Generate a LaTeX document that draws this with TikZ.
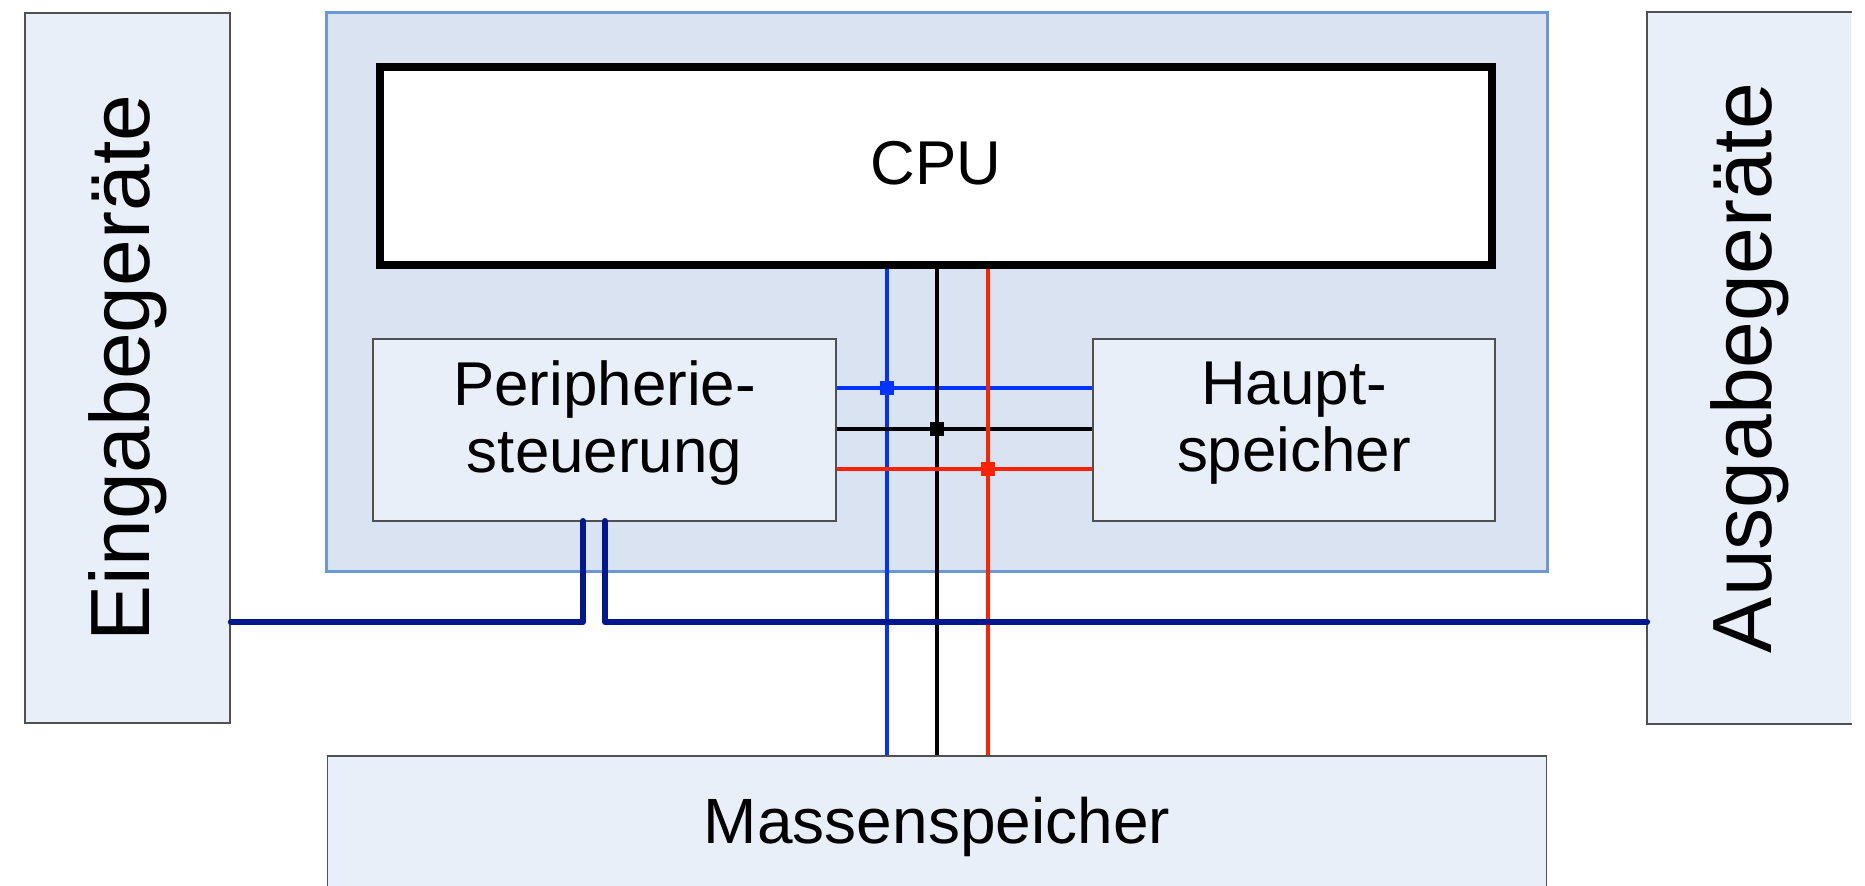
\documentclass[tikz,border=0pt]{standalone}
\usepackage{fontspec}
\setmainfont{Liberation Sans}
\usepackage{graphicx}

\definecolor{boxfill}{RGB}{233,239,248}
\definecolor{boxline}{RGB}{80,80,80}
\definecolor{sysfill}{RGB}{218,227,241}
\definecolor{sysline}{RGB}{108,152,212}
\definecolor{busblue}{RGB}{0,51,255}
\definecolor{busred}{RGB}{255,34,0}
\definecolor{iobus}{RGB}{0,24,143}

\tikzset{
	unitbox/.style={draw=boxline, line width=0.45pt, fill=boxfill, inner sep=0pt, align=center,
		font=\fontsize{17.6}{19.1}\selectfont},
	sidebox/.style={unitbox, minimum width=2.05cm, minimum height=7.1cm,
		font=\fontsize{23.9}{28}\selectfont},
	bus/.style={line width=1.15pt},
	iolink/.style={draw=iobus, line width=1.7pt, line join=round, line cap=round},
}

\begin{document}
\begin{tikzpicture}[x=0.01cm, y=-0.01cm]
		\useasboundingbox (0,0) rectangle (1865,886);
		% rechner
		\node[fill=sysfill, draw=sysline, line width=0.9pt, minimum width=12.2cm, minimum height=5.58cm] (sys) at (937,292) {};
		\node[draw, fill=white, line width=2.3pt, minimum width=11.12cm, minimum height=1.98cm, text depth=0.18em,
			font=\fontsize{17.6}{19.1}\selectfont] (cpu) at (936,166) {CPU};
		\node[unitbox, minimum width=4.63cm, minimum height=1.82cm, text depth=7.7pt] (per) at (604.5,430) {Peripherie-\\steuerung};
		\node[unitbox, minimum width=4.02cm, minimum height=1.82cm, text depth=7.7pt] (haupt) at (1294,430) {Haupt-\\speicher};
		\node[unitbox, minimum width=12.18cm, minimum height=1.42cm, font=\fontsize{18.2}{20}\selectfont] (mass) at (937,827) {Massenspeicher};
		% ein- und ausgabe
		\node[sidebox] (ein) at (127.5,368) {\rotatebox{90}{Eingabegeräte}};
		\node[sidebox, draw=none, minimum width=2.03cm] (aus) at (1749.5,368) {\rotatebox{90}{Ausgabegeräte}};
		\draw[boxline, line width=0.45pt] (aus.north east) -- (aus.north west) -- (aus.south west) -- (aus.south east);
		% systembus
		\foreach \bx/\by/\bc in {887/388/busblue, 937/429/black, 988/469/busred} {
			\draw[bus, \bc] (cpu.south -| \bx,0) -- (mass.north -| \bx,0);
			\draw[bus, \bc] (per.east |- 0,\by) -- (haupt.west |- 0,\by);
			\fill[\bc] (\bx,\by) +(-7,-7) rectangle +(7,7);
		}
		% peripheriebus
		\coordinate (pl) at (583,521);
		\coordinate (pr) at (605,521);
		\coordinate (iorow) at (0,622);
		\draw[iolink] (pl) |- (ein.east |- iorow);
		\draw[iolink] (pr) |- (aus.west |- iorow);
	\end{tikzpicture}
\end{document}
